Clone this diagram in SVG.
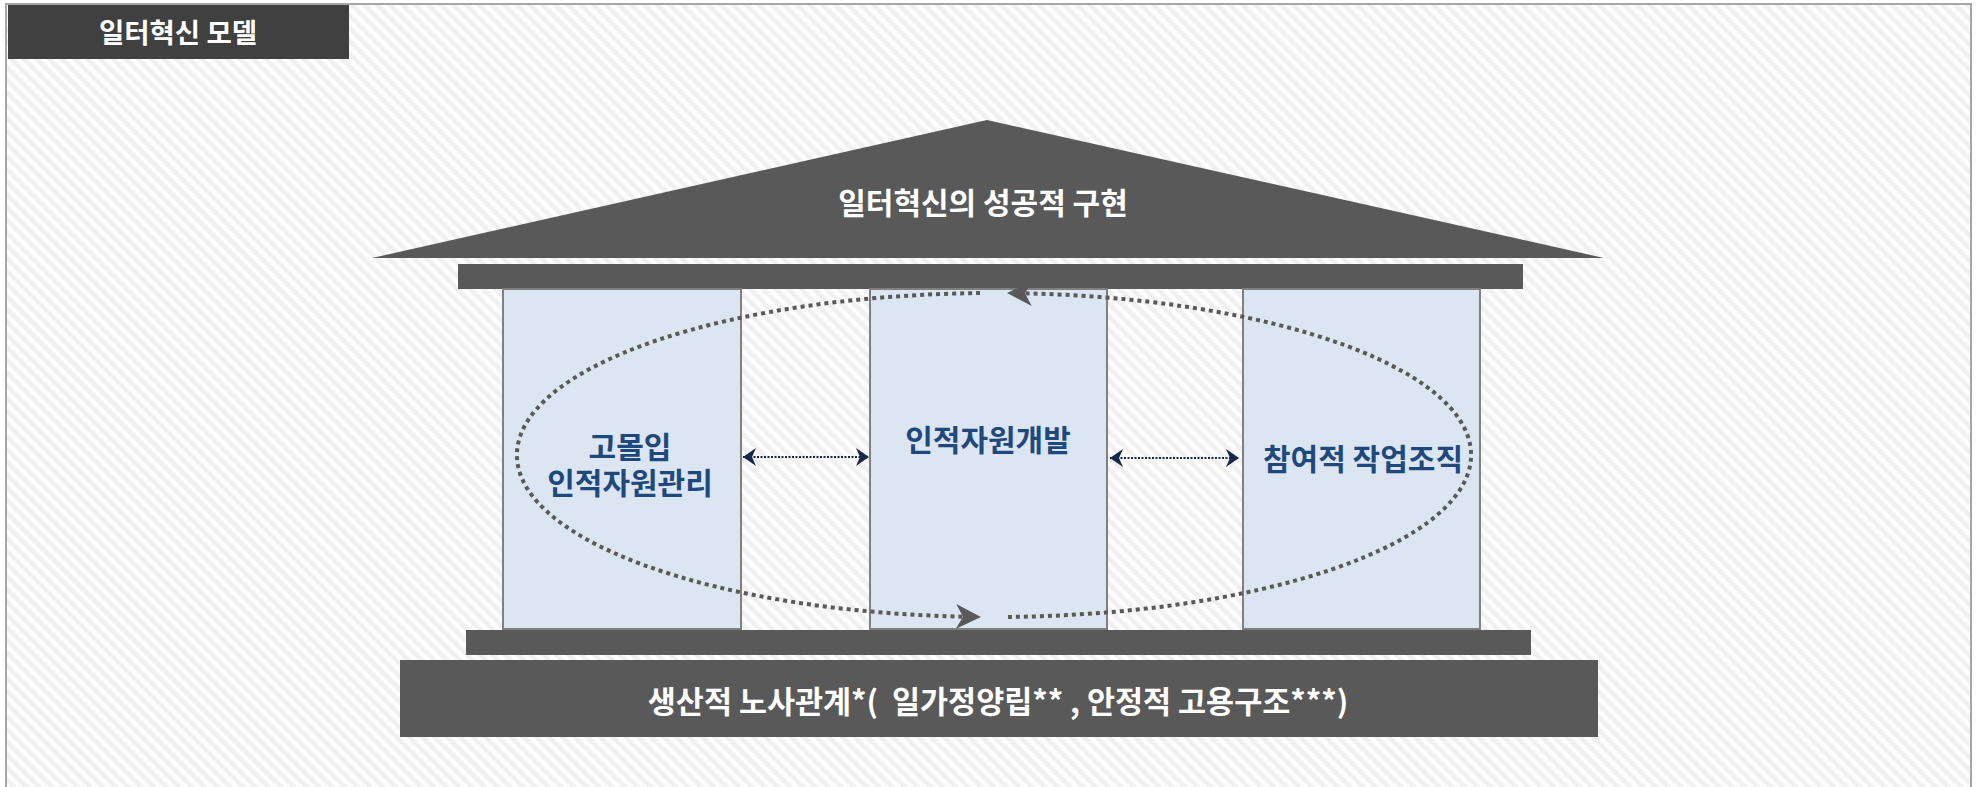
<svg xmlns="http://www.w3.org/2000/svg" width="1977" height="787" viewBox="0 0 1977 787">
  <defs>
    <pattern id="stripes" patternUnits="userSpaceOnUse" width="9" height="9" patternTransform="rotate(-45)">
      <rect x="0" y="0" width="9" height="9" fill="#fdfdfd"/>
      <rect x="0" y="0" width="4.5" height="9" fill="#f0f0f0"/>
    </pattern>
    <marker id="cycleArrow" markerUnits="userSpaceOnUse" markerWidth="26" markerHeight="26" viewBox="0 0 26 26" refX="7" refY="12.5" orient="auto">
      <path d="M0,0 L25,12.5 L0,25 L7,12.5 z" fill="#595959"/>
    </marker>
    <marker id="navyEnd" markerUnits="userSpaceOnUse" markerWidth="14" markerHeight="18" viewBox="0 0 14 18" refX="13" refY="9" orient="auto">
      <path d="M0,0 L13,9 L0,18 L4,9 z" fill="#17284a"/>
    </marker>
    <marker id="navyStart" markerUnits="userSpaceOnUse" markerWidth="14" markerHeight="18" viewBox="0 0 14 18" refX="1" refY="9" orient="auto">
      <path d="M14,0 L1,9 L14,18 L10,9 z" fill="#17284a"/>
    </marker>
  </defs>
  <style>
    .dark { fill: #595959; }
    .pillar { fill: #dce6f2; stroke: #808080; stroke-width: 2; }
    .wtxt { font-family: "Noto Sans CJK KR", "Noto Sans", sans-serif; font-weight: 700; fill: #ffffff; text-anchor: middle; white-space: pre; }
    .btxt { font-family: "Noto Sans CJK KR", "Noto Sans", sans-serif; font-weight: 700; fill: #1f497d; text-anchor: middle; font-size: 30px; }
    .cycle { fill: none; stroke: #595959; stroke-width: 4; stroke-dasharray: 4 4; }
    .link { fill: none; stroke: #17284a; stroke-width: 2; stroke-dasharray: 2 1.5; }
  </style>

  <rect x="6" y="4" width="1965" height="810" fill="url(#stripes)" stroke="#a6a6a6" stroke-width="2"/>

  <g id="title">
    <rect x="8" y="5" width="341" height="54" fill="#404040"/>
    <text class="wtxt" x="178" y="43" font-size="27.5">일터혁신 모델</text>
  </g>

  <g id="roof">
    <polygon class="dark" points="987,120 1604,258 372,258"/>
    <text class="wtxt" x="983" y="213.5" font-size="30">일터혁신의 성공적 구현</text>
  </g>

  <g id="top-beam">
    <rect class="dark" x="458" y="264" width="1065" height="25"/>
  </g>

  <g id="pillar-left">
    <rect class="pillar" x="503" y="289" width="238" height="340"/>
    <text class="btxt" x="630" y="457.5"><tspan x="630">고몰입</tspan><tspan x="630" dy="36.5">인적자원관리</tspan></text>
  </g>

  <g id="pillar-middle">
    <rect class="pillar" x="870" y="289" width="237" height="340"/>
    <text class="btxt" x="988" y="451">인적자원개발</text>
  </g>

  <g id="pillar-right">
    <rect class="pillar" x="1243" y="289" width="237" height="340"/>
    <text class="btxt" x="1363" y="470">참여적 작업조직</text>
  </g>

  <g id="bottom-beam">
    <rect class="dark" x="466" y="630" width="1065" height="25"/>
  </g>

  <g id="base">
    <rect class="dark" x="400" y="660" width="1198" height="77"/>
    <text class="wtxt" x="998" y="713" font-size="30.5" xml:space="preserve">생산적 노사관계*(  일가정양립** , 안정적 고용구조***)</text>
  </g>

  <g id="connectors">
    <path class="cycle" d="M980,293.07 A477,162 0 0,0 963,616.66" marker-end="url(#cycleArrow)"/>
    <path class="cycle" d="M1008,616.93 A477,162 0 0,0 1025,293.34" marker-end="url(#cycleArrow)"/>
    <line class="link" x1="743" y1="457" x2="869" y2="457" marker-start="url(#navyStart)" marker-end="url(#navyEnd)"/>
    <line class="link" x1="1110" y1="458" x2="1239" y2="458" marker-start="url(#navyStart)" marker-end="url(#navyEnd)"/>
  </g>
</svg>
